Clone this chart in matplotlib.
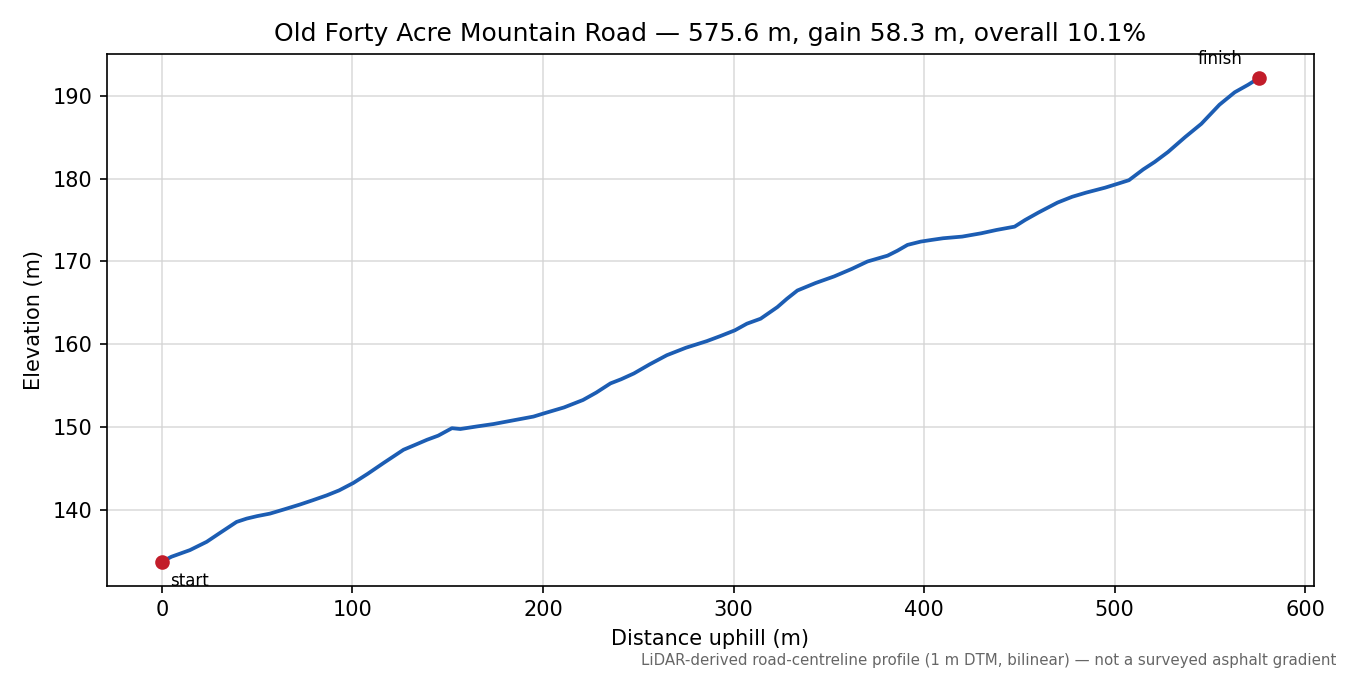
import matplotlib
matplotlib.use("Agg")
import matplotlib.pyplot as plt

distance = [0, 5, 14.7, 23.5, 30, 39.2, 44.5, 50, 56.7, 64, 72.5, 79, 86.5, 93, 100.5, 108,
            116.3, 126.8, 133, 139.1, 145, 152.2, 156.6, 165, 174, 188, 195, 200.7, 211,
            221, 228, 235.4, 241, 247.7, 256, 265, 275, 286, 293, 300.7, 307, 314.2,
            323, 328, 333.5, 343, 352.8, 362, 370.3, 380.8, 386, 391.3, 398.3, 404, 410,
            420, 430, 438, 447.5, 453, 460, 470, 477.7, 485, 495, 502, 507.5, 515, 521,
            528, 537, 545.5, 555, 563, 570, 575.6]
elevation = [133.8, 134.4, 135.2, 136.2, 137.2, 138.6, 139.0, 139.3, 139.6, 140.1, 140.7, 141.2,
             141.8, 142.4, 143.3, 144.4, 145.7, 147.3, 147.9, 148.5, 149.0, 149.9, 149.8, 150.1,
             150.4, 151.0, 151.3, 151.7, 152.4, 153.3, 154.2, 155.3, 155.8, 156.5, 157.6, 158.7,
             159.6, 160.4, 161.0, 161.7, 162.5, 163.1, 164.5, 165.5, 166.5, 167.4, 168.2, 169.1,
             170.0, 170.7, 171.3, 172.0, 172.4, 172.6, 172.8, 173.0, 173.4, 173.8, 174.2, 175.0,
             175.9, 177.1, 177.8, 178.3, 178.9, 179.4, 179.8, 181.1, 182.0, 183.2, 185.0, 186.6,
             188.9, 190.4, 191.3, 192.1]

title = "Old Forty Acre Mountain Road \u2014 575.6 m, gain 58.3 m, overall 10.1%"
footnote = "LiDAR-derived road-centreline profile (1 m DTM, bilinear) \u2014 not a surveyed asphalt gradient"

fig, ax = plt.subplots(figsize=(9, 4.5), dpi=150)
fig.subplots_adjust(left=0.0793, right=0.973, top=0.92, bottom=0.132)

ax.plot(distance, elevation, color="#1c5db3", lw=1.8, zorder=2)
ax.plot([distance[0], distance[-1]], [elevation[0], elevation[-1]], "o",
        color="#c21d2a", ms=6, zorder=3)
ax.annotate("start", (distance[0], elevation[0]), xytext=(4, -5),
            textcoords="offset points", ha="left", va="top", fontsize=8)
ax.annotate("finish", (distance[-1], elevation[-1]), xytext=(-8, 5),
            textcoords="offset points", ha="right", va="bottom", fontsize=8)

ax.grid(True, color="#d4d4d4", lw=0.8, alpha=0.8)
ax.set_axisbelow(True)
ax.set_xlabel("Distance uphill (m)")
ax.set_ylabel("Elevation (m)")
ax.set_title(title, fontsize=12)
fig.text(0.99, 0.022, footnote, ha="right", va="center", fontsize=7.2, color="#666666")

fig.savefig("out.png", dpi=150)
